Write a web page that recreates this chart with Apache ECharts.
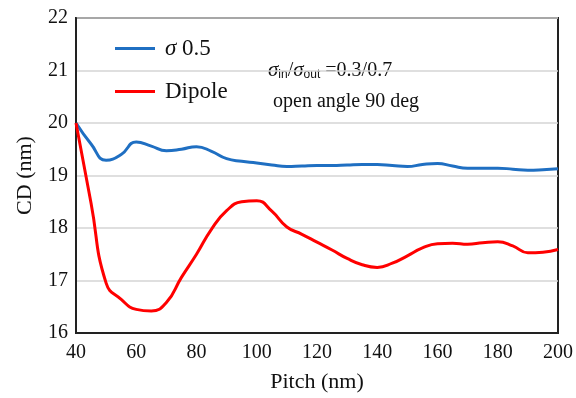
<!DOCTYPE html>
<html>
<head>
<meta charset="utf-8">
<script src="https://cdn.jsdelivr.net/npm/echarts@6/dist/echarts.min.js"></script>
<style>
  html, body { margin: 0; padding: 0; background: #fff; }
</style>
</head>
<body>
<div id="cd_pitch_chart" style="width:576px;height:398px;"></div>
<script>
    // values, pitch in nm
    var pitch = [40, 45, 50, 55, 60, 65, 70, 75, 80, 85, 90, 95, 100, 105, 110, 115, 120,
        125, 130, 135, 140, 145, 150, 155, 160, 165, 170, 175, 180, 185, 190, 195, 200];
    var sigma05 = [20.0, 19.60, 19.29, 19.40, 19.64, 19.56, 19.47, 19.50, 19.55, 19.46, 19.32,
        19.27, 19.24, 19.20, 19.17, 19.18, 19.19, 19.19, 19.20, 19.21, 19.21, 19.19, 19.17,
        19.21, 19.23, 19.18, 19.14, 19.14, 19.14, 19.12, 19.10, 19.11, 19.13];
    var dipole = [20.0, 18.47, 16.95, 16.64, 16.45, 16.42, 16.58, 17.06, 17.50, 17.98, 18.33,
        18.50, 18.52, 18.32, 18.02, 17.88, 17.73, 17.58, 17.42, 17.30, 17.25, 17.33, 17.47,
        17.62, 17.70, 17.71, 17.69, 17.72, 17.74, 17.66, 17.53, 17.54, 17.59];
    var seriesNames = ['σ 0.5', 'Dipole'];

    var serif = '"Liberation Serif", "DejaVu Serif", serif';
    var chart = echarts.init(document.getElementById('cd_pitch_chart'));

    function pairs(ys) {
        var out = [];
        for (var i = 0; i < pitch.length; i++) {
            out.push([pitch[i], ys[i]]);
        }
        return out;
    }

    var option = {
        animation: false,
        backgroundColor: '#fff',
        grid: {
            left: 76,
            right: 13,
            top: 18,
            bottom: 63,
            show: true,
            borderColor: '#222',
            borderWidth: 2
        },
        legend: {
            orient: 'vertical',
            left: 110,
            top: 31,
            icon: 'rect',
            itemWidth: 40,
            itemHeight: 3,
            itemGap: 18,
            data: seriesNames,
            // sigma is set in italic, as in the figure
            formatter: function (name) {
                if (name.charAt(0) === 'σ') {
                    return '{i|σ}' + name.slice(1);
                }
                return name;
            },
            textStyle: {
                fontFamily: serif, fontSize: 23, lineHeight: 25, color: '#111', padding: [0, 0, 0, 5],
                rich: {
                    i: { fontFamily: serif, fontStyle: 'italic', fontSize: 23, lineHeight: 25, color: '#111' }
                }
            }
        },
        xAxis: {
            type: 'value',
            min: 40,
            max: 200,
            interval: 20,
            name: 'Pitch (nm)',
            nameLocation: 'middle',
            nameGap: 38,
            nameTextStyle: { fontFamily: serif, fontSize: 22, color: '#111' },
            axisLine: { lineStyle: { color: '#222', width: 2 } },
            axisTick: { show: false },
            splitLine: { show: false },
            axisLabel: { fontFamily: serif, fontSize: 20, color: '#111', margin: 10 }
        },
        yAxis: {
            type: 'value',
            min: 16,
            max: 22,
            interval: 1,
            name: 'CD (nm)',
            nameLocation: 'middle',
            nameGap: 40,
            nameTextStyle: { fontFamily: serif, fontSize: 22, color: '#111' },
            axisLine: { show: true, lineStyle: { color: '#222', width: 2 } },
            axisTick: { show: false },
            splitLine: { lineStyle: { color: '#d4d4d4', width: 1.5 } },
            axisLabel: { fontFamily: serif, fontSize: 20, color: '#111', margin: 8 }
        },
        graphic: [
            {
                type: 'text',
                left: 268,
                top: 60,
                style: {
                    text: '{s|σ}{sub|in}{n|/}{s|σ}{sub|out}{n| =0.3/0.7}',
                    rich: {
                        s: { fontFamily: serif, fontStyle: 'italic', fontSize: 21, fill: '#111' },
                        n: { fontFamily: serif, fontSize: 20, fill: '#111' },
                        sub: { fontFamily: '"Liberation Sans", sans-serif', fontSize: 12, fill: '#111', padding: [9, 0, 0, 0] }
                    }
                }
            },
            {
                type: 'text',
                left: 273,
                top: 92,
                style: {
                    text: 'open angle 90 deg',
                    fontFamily: serif,
                    fontSize: 20,
                    fill: '#111'
                }
            }
        ],
        series: [
            {
                name: seriesNames[0],
                type: 'line',
                smooth: true,
                symbol: 'none',
                data: pairs(sigma05),
                lineStyle: { color: '#1f6fc2', width: 3 },
                itemStyle: { color: '#1f6fc2' }
            },
            {
                name: seriesNames[1],
                type: 'line',
                smooth: true,
                symbol: 'none',
                data: pairs(dipole),
                lineStyle: { color: '#ff0000', width: 3 },
                itemStyle: { color: '#ff0000' }
            }
        ]
    };
    chart.setOption(option);
</script>
</body>
</html>
